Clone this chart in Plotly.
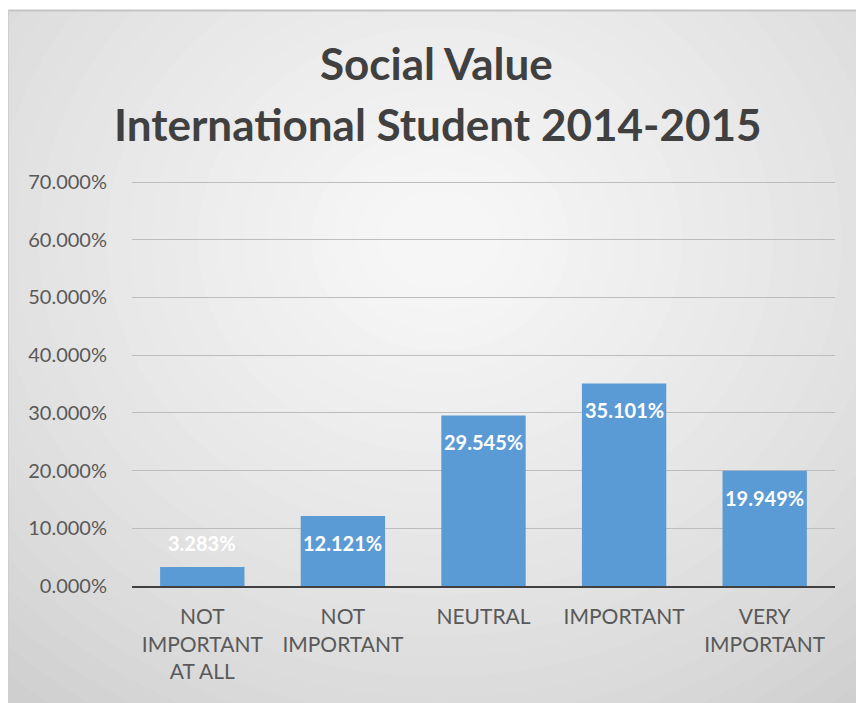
import plotly.graph_objects as go

# Survey results
categories = ["NOT<br>IMPORTANT<br>AT ALL", "NOT<br>IMPORTANT", "NEUTRAL", "IMPORTANT", "VERY<br>IMPORTANT"]
shares = [0.03283, 0.12121, 0.29545, 0.35101, 0.19949]
y_ticks = [0.0, 0.1, 0.2, 0.3, 0.4, 0.5, 0.6, 0.7]

W, H = 856, 703
L, R, T, B = 132, 21, 180, 117
plot_w, plot_h = W - L - R, H - T - B
y_max = 0.7035
FONT = "Lato, Open Sans, sans-serif"


def px_x(p):
    return (p - L) / plot_w


def px_y(p):
    return (H - B - p) / plot_h


def mix(c1, c2, t):
    return "#" + "".join(f"{round(a + (b - a) * t):02x}" for a, b in zip(c1, c2))


fig = go.Figure()
fig.add_trace(go.Bar(
    x=categories, y=shares,
    marker=dict(color="#5b9bd5", line=dict(width=0)),
    width=0.6,
    hoverinfo="skip",
))

# Value labels near the top of each bar (kept above a minimum height for short bars)
unit_per_px = y_max / plot_h
annotations = []
for c, v in zip(categories, shares):
    yc = max(v - 27 * unit_per_px, 43 * unit_per_px)
    annotations.append(dict(
        x=c, y=yc, xref="x", yref="y", text=f"<b>{v * 100:.3f}%</b>",
        showarrow=False, yanchor="middle",
        font=dict(family=FONT, size=20, color="white"),
    ))

# Title lines
annotations.append(dict(x=px_x(436), y=px_y(63), xref="paper", yref="paper",
                        text="<b>Social Value</b>", showarrow=False, yanchor="middle",
                        font=dict(family=FONT, size=44, color="#404040")))
annotations.append(dict(x=px_x(437), y=px_y(124), xref="paper", yref="paper",
                        text="<b>International Student 2014-2015</b>", showarrow=False,
                        yanchor="middle",
                        font=dict(family=FONT, size=44, color="#404040")))

# Soft radial background inside the chart frame
shapes = []
outer = (0xc8, 0xc8, 0xc8)
inner = (0xf6, 0xf6, 0xf6)
cx, cy = 440, 240
steps = 30
for i in range(steps):
    t = i / (steps - 1)
    rx = 720 * (1 - t) + 60 * t
    ry = 640 * (1 - t) + 50 * t
    shapes.append(dict(type="circle", xref="paper", yref="paper", layer="below",
                       x0=px_x(cx - rx), x1=px_x(cx + rx), y0=px_y(cy + ry), y1=px_y(cy - ry),
                       fillcolor=mix(outer, inner, t ** 0.7), line=dict(width=0)))
# white margin outside the frame
shapes.append(dict(type="rect", xref="paper", yref="paper", layer="below",
                   x0=px_x(-5), x1=px_x(8), y0=px_y(710), y1=px_y(-5),
                   fillcolor="white", line=dict(width=0)))
shapes.append(dict(type="rect", xref="paper", yref="paper", layer="below",
                   x0=px_x(-5), x1=px_x(870), y0=px_y(10), y1=px_y(-5),
                   fillcolor="white", line=dict(width=0)))
shapes.append(dict(type="line", xref="paper", yref="paper", layer="below",
                   x0=px_x(8), x1=px_x(870), y0=px_y(10.5), y1=px_y(10.5),
                   line=dict(color="#c4c4c4", width=2)))
shapes.append(dict(type="line", xref="paper", yref="paper", layer="below",
                   x0=px_x(8.5), x1=px_x(8.5), y0=px_y(703), y1=px_y(10),
                   line=dict(color="#cfcfcf", width=1)))

fig.update_layout(
    width=W, height=H,
    margin=dict(l=L, r=R, t=T, b=B, pad=0),
    paper_bgcolor="white",
    plot_bgcolor="rgba(0,0,0,0)",
    showlegend=False,
    bargap=0.4,
    annotations=annotations,
    shapes=shapes,
    font=dict(family=FONT, color="#595959"),
)
fig.update_xaxes(
    showgrid=False, showline=True, linecolor="#404040", linewidth=2,
    ticks="", tickfont=dict(size=21, color="#595959"), ticklabelstandoff=11,
    fixedrange=True,
)
fig.update_yaxes(
    range=[0, y_max], tickvals=y_ticks, tickformat=".3%",
    showgrid=True, gridcolor="#bdbdbd", gridwidth=1,
    zeroline=False, showline=False, ticks="", ticklen=0,
    tickfont=dict(size=20, color="#595959"), ticklabelstandoff=24,
    fixedrange=True,
)

fig.write_html("out.html")
